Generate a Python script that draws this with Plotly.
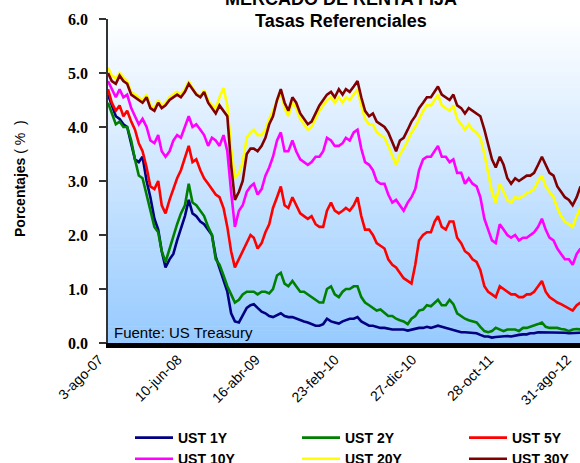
import pandas as pd
import plotly.graph_objects as go

# ---------------- data (semi-monthly readings, 3rd and 18th of each month) ----------------
month_starts = pd.date_range("2007-08-01", periods=62, freq="MS")
dates = []
for ms in month_starts:
    dates.append(ms + pd.Timedelta(days=2))
    dates.append(ms + pd.Timedelta(days=17))

ust_1y = [4.60, 4.40, 4.20, 4.15, 4.05, 4.00, 3.70, 3.40, 3.35, 3.45,
          3.00, 2.70, 2.30, 2.10, 1.70, 1.40, 1.55, 1.65, 1.90, 2.10,
          2.35, 2.65, 2.40, 2.35, 2.25, 2.20, 2.10, 2.00, 1.60, 1.40,
          1.15, 0.95, 0.55, 0.40, 0.38, 0.50, 0.65, 0.70, 0.72, 0.65,
          0.58, 0.55, 0.50, 0.48, 0.52, 0.55, 0.50, 0.48, 0.48, 0.45,
          0.42, 0.40, 0.38, 0.35, 0.32, 0.32, 0.35, 0.45, 0.40, 0.38,
          0.36, 0.40, 0.42, 0.45, 0.45, 0.48, 0.40, 0.36, 0.32, 0.32,
          0.30, 0.28, 0.28, 0.26, 0.25, 0.25, 0.25, 0.25, 0.23, 0.25,
          0.27, 0.28, 0.28, 0.30, 0.28, 0.30, 0.32, 0.30, 0.28, 0.27,
          0.25, 0.22, 0.20, 0.20, 0.19, 0.19, 0.18, 0.15, 0.12, 0.12,
          0.10, 0.11, 0.12, 0.12, 0.13, 0.12, 0.14, 0.15, 0.16, 0.16,
          0.18, 0.18, 0.20, 0.20, 0.20, 0.19, 0.20, 0.20, 0.19, 0.19,
          0.18, 0.18, 0.19, 0.19]

ust_2y = [4.45, 4.25, 4.05, 4.10, 4.00, 4.00, 3.75, 3.40, 3.10, 3.05,
          2.75, 2.50, 2.15, 2.05, 1.70, 1.50, 1.75, 2.00, 2.20, 2.40,
          2.55, 2.95, 2.60, 2.55, 2.45, 2.35, 2.15, 2.00, 1.55, 1.45,
          1.25, 1.05, 0.90, 0.75, 0.80, 0.90, 0.95, 0.95, 0.95, 0.90,
          0.95, 0.95, 0.92, 1.00, 1.25, 1.30, 1.10, 1.05, 1.15, 1.05,
          0.95, 0.95, 0.90, 0.85, 0.80, 0.75, 0.75, 1.00, 1.05, 0.90,
          0.85, 0.95, 1.00, 1.00, 1.05, 1.05, 0.85, 0.75, 0.70, 0.65,
          0.60, 0.62, 0.55, 0.50, 0.50, 0.45, 0.42, 0.40, 0.35, 0.45,
          0.50, 0.60, 0.62, 0.70, 0.68, 0.75, 0.80, 0.70, 0.70, 0.80,
          0.72, 0.55, 0.50, 0.45, 0.42, 0.40, 0.38, 0.30, 0.22, 0.20,
          0.22, 0.28, 0.25, 0.22, 0.25, 0.25, 0.25, 0.22, 0.28, 0.28,
          0.30, 0.32, 0.35, 0.38, 0.30, 0.28, 0.28, 0.28, 0.26, 0.25,
          0.22, 0.25, 0.26, 0.25]

ust_5y = [4.70, 4.45, 4.30, 4.40, 4.20, 4.30, 4.10, 3.95, 3.70, 3.55,
          3.25, 2.90, 2.85, 3.00, 2.55, 2.40, 2.65, 2.85, 3.05, 3.20,
          3.45, 3.65, 3.35, 3.40, 3.20, 3.05, 2.95, 2.85, 2.75, 2.70,
          2.50, 2.15, 1.70, 1.40, 1.55, 1.70, 1.85, 2.00, 1.95, 1.75,
          1.85, 2.05, 2.20, 2.50, 2.70, 2.90, 2.55, 2.50, 2.70, 2.55,
          2.40, 2.35, 2.30, 2.35, 2.20, 2.15, 2.15, 2.45, 2.60, 2.45,
          2.40, 2.45, 2.50, 2.45, 2.55, 2.70, 2.35, 2.10, 2.10, 2.00,
          1.85, 1.80, 1.75, 1.55, 1.45, 1.40, 1.30, 1.20, 1.15, 1.10,
          1.45, 1.90, 2.00, 2.05, 2.05, 2.25, 2.35, 2.15, 2.10, 2.25,
          2.25, 1.95, 1.85, 1.70, 1.65, 1.55, 1.50, 1.35, 1.05, 0.95,
          0.90, 0.85, 1.05, 1.00, 0.95, 0.90, 0.90, 0.85, 0.85, 0.90,
          0.90, 0.95, 1.05, 1.15, 0.95, 0.85, 0.80, 0.75, 0.72, 0.68,
          0.65, 0.60, 0.70, 0.75]

ust_10y = [4.85, 4.70, 4.55, 4.70, 4.55, 4.60, 4.35, 4.20, 4.05, 4.15,
           4.00, 3.75, 3.70, 3.85, 3.55, 3.45, 3.55, 3.75, 3.85, 3.80,
           4.00, 4.20, 4.00, 4.05, 3.95, 3.85, 3.65, 3.80, 3.75, 3.65,
           3.85, 3.55, 2.80, 2.15, 2.45, 2.55, 2.80, 2.90, 2.95, 2.75,
           2.85, 3.10, 3.25, 3.45, 3.75, 3.90, 3.55, 3.55, 3.75, 3.55,
           3.40, 3.35, 3.30, 3.35, 3.45, 3.45, 3.55, 3.80, 3.75, 3.65,
           3.65, 3.70, 3.80, 3.75, 3.90, 3.95, 3.60, 3.35, 3.30, 3.20,
           3.00, 2.95, 2.95, 2.75, 2.60, 2.65, 2.55, 2.45, 2.60, 2.70,
           2.85, 3.20, 3.40, 3.45, 3.45, 3.55, 3.65, 3.45, 3.45, 3.35,
           3.40, 3.15, 3.15, 2.95, 3.05, 2.95, 2.90, 2.70, 2.30, 2.10,
           1.90, 1.85, 2.20, 2.10, 2.00, 1.95, 2.00, 1.90, 1.95, 1.95,
           2.00, 2.05, 2.15, 2.30, 2.10, 1.95, 1.90, 1.75, 1.65, 1.55,
           1.55, 1.45, 1.65, 1.75]

ust_20y = [5.10, 4.95, 4.90, 5.00, 4.92, 4.85, 4.65, 4.60, 4.55, 4.50,
           4.60, 4.40, 4.35, 4.50, 4.40, 4.45, 4.55, 4.60, 4.65, 4.60,
           4.70, 4.85, 4.72, 4.62, 4.58, 4.68, 4.50, 4.40, 4.35, 4.55,
           4.72, 4.40, 3.60, 3.05, 3.15, 3.35, 3.80, 3.90, 3.95, 3.85,
           3.85, 3.95, 4.15, 4.30, 4.50, 4.65, 4.35, 4.20, 4.45, 4.35,
           4.15, 4.05, 3.95, 4.00, 4.15, 4.30, 4.40, 4.50, 4.55, 4.45,
           4.55, 4.45, 4.55, 4.50, 4.60, 4.70, 4.40, 4.15, 4.05, 4.05,
           3.90, 3.85, 3.80, 3.65, 3.45, 3.30, 3.50, 3.60, 3.75, 3.90,
           4.00, 4.15, 4.30, 4.40, 4.40, 4.50, 4.60, 4.40, 4.35, 4.30,
           4.40, 4.15, 4.05, 3.95, 4.05, 3.95, 3.90, 3.80, 3.50, 3.15,
           2.80, 2.60, 2.95, 2.80, 2.65, 2.60, 2.70, 2.68, 2.72, 2.78,
           2.80, 2.85, 3.00, 3.10, 2.90, 2.80, 2.70, 2.50, 2.35, 2.25,
           2.20, 2.15, 2.35, 2.50]

ust_30y = [5.00, 4.85, 4.80, 4.95, 4.85, 4.80, 4.60, 4.55, 4.50, 4.45,
           4.55, 4.35, 4.30, 4.45, 4.35, 4.40, 4.50, 4.55, 4.60, 4.55,
           4.65, 4.80, 4.70, 4.60, 4.55, 4.65, 4.45, 4.35, 4.25, 4.40,
           4.30, 4.20, 3.30, 2.65, 2.80, 3.00, 3.50, 3.60, 3.60, 3.55,
           3.65, 3.80, 4.05, 4.20, 4.50, 4.70, 4.45, 4.30, 4.55, 4.45,
           4.25, 4.15, 4.05, 4.10, 4.25, 4.40, 4.50, 4.60, 4.65, 4.55,
           4.70, 4.60, 4.70, 4.65, 4.75, 4.85, 4.55, 4.30, 4.20, 4.25,
           4.10, 4.05, 4.00, 3.90, 3.70, 3.55, 3.75, 3.80, 3.95, 4.10,
           4.20, 4.35, 4.45, 4.55, 4.55, 4.65, 4.75, 4.60, 4.55, 4.50,
           4.60, 4.40, 4.35, 4.25, 4.35, 4.30, 4.25, 4.20, 3.95, 3.70,
           3.40, 3.25, 3.45, 3.30, 3.05, 2.95, 3.05, 3.00, 3.05, 3.10,
           3.10, 3.15, 3.30, 3.45, 3.30, 3.15, 3.10, 2.90, 2.80, 2.70,
           2.65, 2.55, 2.70, 2.90]

series_names = ["UST 1Y", "UST 2Y", "UST 5Y", "UST 10Y", "UST 20Y", "UST 30Y"]
series_values = [ust_1y, ust_2y, ust_5y, ust_10y, ust_20y, ust_30y]
series_colors = ["#000080", "#008000", "#FF0000", "#FF00FF", "#FFFF00", "#800000"]
series_legend = ["legend", "legend2", "legend3", "legend", "legend2", "legend3"]

tick_dates = ["2007-08-03", "2008-06-10", "2009-04-16", "2010-02-23",
              "2010-12-27", "2011-10-28", "2012-08-31"]
tick_labels = ["3-ago-07", "10-jun-08", "16-abr-09", "23-feb-10",
               "27-dic-10", "28-oct-11", "31-ago-12"]

# ---------------- figure ----------------
# body margin is removed by the post script, so figure coords = page coords
OFF = 0
W, H = 580, 463
L, R, T, B = 108, 0, 19, 120
pw, ph = W - L - R, H - T - B

def px_x(page_x):
    return (page_x - OFF - L) / pw

def px_y(page_y):
    return (H - B - (page_y - OFF)) / ph

fig = go.Figure()
for name, vals, col, lg in zip(series_names, series_values, series_colors, series_legend):
    fig.add_trace(go.Scatter(x=dates, y=vals, name=name, mode="lines",
                             line=dict(color=col, width=2.6), legend=lg))

# vertical gradient background of the plot area
shapes = []
n = 80
top = (255, 255, 255)
bot = (150, 202, 255)
for i in range(n):
    t = (i + 0.5) / n  # 0 bottom -> 1 top
    c = tuple(round(bot[j] + (top[j] - bot[j]) * t) for j in range(3))
    shapes.append(dict(type="rect", xref="paper", yref="paper",
                       x0=0, x1=1, y0=i / n, y1=(i + 1) / n + 0.002,
                       fillcolor="rgb(%d,%d,%d)" % c, line=dict(width=0),
                       layer="below"))

leg_font = dict(family="Arial, Liberation Sans", size=14, color="black", weight="bold")
legend_common = dict(orientation="v", xanchor="left", yanchor="top",
                     bgcolor="rgba(0,0,0,0)", font=leg_font, borderwidth=0,
                     itemwidth=38)

fig.update_layout(
    width=W, height=H,
    margin=dict(l=L, r=R, t=T, b=B, autoexpand=False),
    paper_bgcolor="white", plot_bgcolor="white",
    shapes=shapes,
    showlegend=True,
    legend=dict(x=px_x(130), y=px_y(422), **legend_common),
    legend2=dict(x=px_x(297), y=px_y(422), **legend_common),
    legend3=dict(x=px_x(464), y=px_y(422), **legend_common),
    xaxis=dict(type="date", range=["2007-08-03", "2012-09-16"],
               tickmode="array", tickvals=tick_dates, ticktext=tick_labels,
               tickangle=-45, ticks="", showgrid=False, zeroline=False,
               showline=True, linecolor="black", linewidth=5,
               ticklabelstandoff=-2, ticklabelshift=-9,
               tickfont=dict(family="Arial, Liberation Sans", size=14, color="black"),
               automargin=False),
    yaxis=dict(range=[0, 6], tickmode="linear", tick0=0, dtick=1, tickformat=".1f",
               ticks="outside", ticklen=7, tickwidth=1.5, tickcolor="#333333",
               showline=True, linecolor="#333333", linewidth=1.5,
               showgrid=False, zeroline=False, ticklabelstandoff=8,
               tickfont=dict(family="Liberation Serif, Times New Roman", size=16,
                             color="black", weight="bold"),
               automargin=False),
    annotations=[
        dict(text="<b>MERCADO DE RENTA FIJA</b>", xref="paper", yref="paper",
             x=px_x(341), y=px_y(-1), xanchor="center", yanchor="middle",
             showarrow=False, font=dict(family="Arial, Liberation Sans", size=18, color="black")),
        dict(text="<b>Tasas Referenciales</b>", xref="paper", yref="paper",
             x=px_x(341), y=px_y(21), xanchor="center", yanchor="middle",
             showarrow=False, font=dict(family="Arial, Liberation Sans", size=18, color="black")),
        dict(text="Fuente: US Treasury", xref="paper", yref="paper",
             x=px_x(112), y=px_y(332), xanchor="left", yanchor="middle",
             showarrow=False, font=dict(family="Arial, Liberation Sans", size=15, color="black")),
        dict(text="<b>Porcentajes</b> (\u00a0%\u00a0\u00a0)", xref="paper", yref="paper",
             x=px_x(20), y=px_y(179), xanchor="center", yanchor="middle", textangle=-90,
             showarrow=False, font=dict(family="Arial, Liberation Sans", size=14, color="black")),
    ],
)

fig.write_html("out.html",
               config={"displayModeBar": False},
               post_script="document.body.style.margin='0px';document.body.style.overflow='hidden';")
